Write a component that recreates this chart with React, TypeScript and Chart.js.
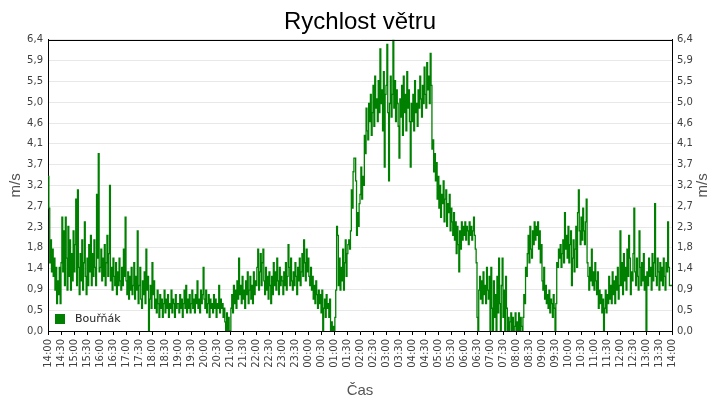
import { useEffect, useRef } from "react";
import { Chart, registerables } from "chart.js";

Chart.register(...registerables);

const chartTitle = "Rychlost větru";
const seriesName = "Bouřňák";
const unitLabel = "m/s";
const timeAxisLabel = "Čas";

// one reading every 2 minutes, starting at 14:00
const sampleMinutes = 2;

const timeLabels = [
  "14:00", "14:30", "15:00", "15:30", "16:00", "16:30", "17:00", "17:30",
  "18:00", "18:30", "19:00", "19:30", "20:00", "20:30", "21:00", "21:30",
  "22:00", "22:30", "23:00", "23:30", "00:00", "00:30", "01:00", "01:30",
  "02:00", "02:30", "03:00", "03:30", "04:00", "04:30", "05:00", "05:30",
  "06:00", "06:30", "07:00", "07:30", "08:00", "08:30", "09:00", "09:30",
  "10:00", "10:30", "11:00", "11:30", "12:00", "12:30", "13:00", "13:30",
  "14:00",
];

const yTickLabels = [
  "0,0", "0,5", "0,9", "1,4", "1,8", "2,3", "2,7", "3,2",
  "3,7", "4,1", "4,6", "5,0", "5,5", "5,9", "6,4",
];
const yMax = 6.4;

const windSpeed = [
  // 14:00
  3.4, 2.7, 1.5, 2.0, 1.3, 1.8, 1.2, 1.6, 0.9, 1.4, 0.6, 1.1, 0.8, 1.4, 0.6,
  1.5, 2.5, 1.3, 2.2, 1.0, 2.5, 1.6, 0.9, 2.3, 1.2, 2.0, 0.9, 1.7, 1.1, 2.2,
  // 15:00
  1.3, 1.9, 2.9, 1.0, 3.1, 1.4, 0.8, 1.7, 1.1, 2.0, 0.9, 1.5, 2.4, 1.2, 0.8,
  1.6, 1.0, 1.9, 1.3, 2.1, 1.0, 1.7, 1.2, 2.0, 1.4, 1.0, 3.0, 1.6, 3.9, 1.3,
  // 16:00
  1.4, 1.8, 1.1, 1.6, 1.2, 1.9, 1.0, 1.5, 2.1, 1.2, 1.7, 3.2, 1.1, 1.4, 0.9,
  1.6, 1.2, 1.0, 1.5, 0.8, 1.3, 1.0, 1.6, 1.1, 0.9, 1.4, 1.0, 1.8, 1.2, 2.5,
  // 17:00
  1.1, 0.8, 1.3, 0.7, 1.2, 0.9, 1.4, 0.8, 1.0, 1.5, 0.7, 1.2, 0.9, 2.2, 0.6,
  1.0, 1.4, 0.7, 0.5, 1.1, 0.8, 1.3, 0.6, 1.8, 0.9, 1.2, 0.0, 0.7, 1.0, 0.5,
  // 18:00
  1.5, 0.8, 1.1, 0.5, 0.7, 0.4, 0.9, 0.6, 0.3, 0.8, 0.5, 0.7, 0.3, 0.6, 0.9,
  0.4, 0.7, 0.5, 0.8, 0.3, 0.6, 0.5, 0.9, 0.4, 0.7, 0.6, 0.3, 0.8, 0.5, 0.6,
  // 19:00
  0.6, 0.4, 0.8, 0.5, 0.7, 0.3, 0.6, 0.9, 0.5, 1.0, 0.4, 0.7, 0.5, 0.8, 0.4,
  0.6, 0.9, 0.5, 0.7, 0.4, 0.8, 0.6, 1.1, 0.5, 0.7, 0.4, 0.9, 0.6, 0.8, 1.4,
  // 20:00
  0.7, 0.5, 0.9, 0.4, 0.6, 0.8, 0.3, 0.7, 0.5, 0.6, 0.4, 0.8, 0.5, 0.7, 0.3,
  0.6, 0.5, 1.0, 0.4, 0.7, 0.5, 0.6, 0.3, 0.5, 0.2, 0.0, 0.4, 0.0, 0.3, 0.0,
  // 21:00
  0.0, 0.5, 0.8, 0.4, 1.0, 0.6, 0.9, 0.5, 1.1, 0.7, 1.6, 0.8, 1.0, 0.6, 1.2,
  0.7, 0.9, 0.5, 1.1, 0.8, 1.3, 0.6, 0.9, 1.2, 0.7, 1.0, 0.6, 1.3, 0.8, 1.1,
  // 22:00
  1.0, 1.4, 1.8, 0.9, 1.3, 1.7, 1.0, 1.5, 1.8, 1.1, 0.8, 1.4, 0.9, 1.2, 0.7,
  1.3, 1.0, 0.6, 1.2, 0.8, 1.5, 1.0, 1.3, 0.9, 1.6, 1.1, 0.8, 1.4, 1.0, 1.2,
  // 23:00
  1.1, 0.8, 1.3, 1.0, 1.5, 0.9, 1.2, 1.9, 1.4, 1.0, 1.6, 1.1, 0.9, 1.3, 1.0,
  1.5, 1.2, 0.8, 1.4, 1.1, 1.6, 1.0, 1.3, 1.7, 1.2, 2.0, 1.5, 1.1, 1.8, 1.3,
  // 00:00
  1.6, 1.2, 1.0, 1.4, 0.9, 1.2, 0.7, 1.0, 0.6, 1.1, 0.8, 0.5, 0.9, 0.6, 0.8,
  0.4, 0.9, 0.0, 0.5, 0.7, 0.3, 0.8, 0.5, 0.6, 0.3, 0.7, 0.0, 0.2, 0.0, 0.1,
  // 01:00
  0.0, 0.3, 0.9, 2.3, 2.1, 1.0, 1.6, 0.9, 1.4, 1.1, 1.8, 0.9, 1.5, 2.0, 1.2,
  1.7, 1.9, 2.0, 1.8, 2.2, 3.1, 2.7, 3.5, 3.8, 3.8, 3.3, 2.1, 2.6, 2.3, 2.8,
  // 02:00
  3.0, 3.6, 2.9, 3.4, 3.2, 4.3, 3.9, 4.9, 4.4, 4.2, 5.0, 4.6, 5.2, 4.3, 4.8,
  5.4, 4.5, 5.6, 4.9, 5.1, 4.6, 5.5, 4.8, 6.2, 5.0, 5.3, 4.4, 5.7, 3.6, 5.2,
  // 03:00
  5.4, 6.3, 4.8, 3.3, 5.0, 5.6, 4.7, 5.2, 6.4, 4.9, 5.5, 4.6, 5.3, 5.0, 4.5,
  3.8, 5.1, 4.7, 5.4, 4.3, 5.6, 4.8, 5.2, 4.4, 5.7, 4.9, 5.3, 4.6, 3.6, 5.0,
  // 04:00
  4.6, 5.2, 4.4, 5.5, 4.8, 5.0, 4.5, 5.3, 4.9, 5.6, 5.1, 4.7, 5.4, 5.0, 5.8,
  5.2, 4.9, 5.9, 5.3, 5.6, 5.0, 6.1, 5.4, 4.0, 4.2, 3.5, 3.9, 3.3, 3.7, 2.9,
  // 05:00
  3.4, 2.7, 3.2, 2.5, 3.0, 2.8, 3.3, 2.4, 2.9, 3.1, 2.3, 2.8, 2.6, 3.0, 2.2,
  2.7, 2.4, 2.1, 2.6, 2.0, 2.4, 1.7, 2.3, 1.9, 1.3, 2.2, 1.8, 2.4, 2.0, 2.3,
  // 06:00
  2.1, 2.4, 2.0, 2.3, 2.2, 1.9, 2.4, 2.1, 2.3, 2.0, 2.2, 2.5, 2.1, 1.8, 1.5,
  0.3, 0.0, 0.9, 1.2, 0.7, 1.1, 0.6, 1.3, 0.8, 1.0, 0.6, 1.4, 0.9, 0.7, 1.2,
  // 07:00
  0.0, 1.4, 0.5, 0.0, 1.1, 0.3, 0.8, 0.0, 1.2, 0.4, 1.6, 0.6, 0.0, 1.0, 1.6,
  0.3, 0.9, 0.0, 1.2, 0.5, 0.0, 0.3, 0.0, 0.2, 0.4, 0.0, 0.3, 0.0, 0.1, 0.4,
  // 08:00
  0.0, 0.2, 0.0, 0.4, 0.0, 0.3, 0.1, 0.0, 0.3, 0.8, 0.6, 1.4, 1.2, 1.7, 2.1,
  1.5, 2.3, 1.8, 1.6, 2.2, 1.9, 2.4, 2.0, 2.3, 2.1, 2.4, 1.8, 2.2, 1.5, 1.9,
  // 09:00
  1.1, 0.9, 1.4, 0.7, 1.0, 0.6, 0.8, 0.5, 0.9, 0.4, 0.7, 0.6, 0.3, 0.8, 0.5,
  0.0, 0.6, 1.5, 1.4, 1.8, 1.6, 1.9, 1.4, 1.7, 2.0, 1.5, 2.6, 1.8, 2.1, 1.6,
  // 10:00
  2.3, 1.5, 1.9, 2.2, 1.0, 1.6, 2.0, 1.3, 1.8, 2.3, 1.4, 2.6, 3.1, 2.2, 1.9,
  2.5, 2.0, 2.7, 2.2, 1.9, 2.4, 2.9, 1.5, 1.2, 0.9, 1.4, 1.1, 1.8, 1.0, 1.3,
  // 11:00
  0.9, 1.5, 1.1, 0.8, 1.3, 0.5, 0.9, 0.6, 0.8, 0.4, 0.7, 0.0, 0.5, 0.9, 0.4,
  0.8, 0.6, 1.2, 0.7, 1.0, 0.6, 1.3, 0.8, 1.1, 0.6, 1.2, 0.9, 1.4, 0.7, 1.0,
  // 12:00
  2.2, 1.0, 1.5, 0.8, 1.7, 1.1, 1.4, 0.9, 1.8, 1.2, 2.1, 1.6, 0.8, 1.3, 1.1,
  1.7, 2.7, 1.3, 1.0, 1.6, 1.2, 0.9, 2.2, 1.4, 1.0, 1.5, 1.1, 1.7, 0.9, 1.2,
  // 13:00
  0.0, 1.3, 1.0, 1.6, 1.2, 1.4, 0.9, 1.7, 1.1, 1.5, 2.8, 1.2, 1.0, 1.6, 1.3,
  0.9, 1.5, 1.1, 1.4, 1.0, 1.6, 1.2, 0.9, 1.5, 1.3, 2.4, 1.4, 1.0, 1.0, 1.0,
  // 14:00
  1.0,
];

const lineColor = "#008000";
const tickColor = "#404040";
const labelFont = "'DejaVu Sans', Verdana, sans-serif";
const titleFont = "'Liberation Sans', Arial, sans-serif";

// top edge of the frame, legend inside the plot and the right axis title
const framePlugin = {
  id: "frameAndLegend",
  afterDatasetsDraw(chart: Chart) {
    const { ctx, chartArea } = chart;
    const top = Math.round(chartArea.top) + 0.5;
    ctx.save();
    ctx.strokeStyle = "#000";
    ctx.lineWidth = 1;
    ctx.beginPath();
    ctx.moveTo(chartArea.left, top);
    ctx.lineTo(chartArea.right, top);
    ctx.stroke();

    const ds = chart.data.datasets[0] as any;
    ctx.fillStyle = ds.borderColor;
    ctx.fillRect(chartArea.left + 7, chartArea.bottom - 17, 10, 10);
    ctx.fillStyle = "#222";
    ctx.font = `11px ${labelFont}`;
    ctx.textBaseline = "middle";
    ctx.textAlign = "left";
    ctx.fillText(ds.label, chartArea.left + 27, chartArea.bottom - 12);

    ctx.translate(703, (chartArea.top + chartArea.bottom) / 2);
    ctx.rotate(-Math.PI / 2);
    ctx.textAlign = "center";
    ctx.font = `15px ${titleFont}`;
    ctx.fillStyle = "#555";
    ctx.fillText(unitLabel, 0, 0);
    ctx.restore();
  },
};

function setYTicks(scale: any) {
  scale.ticks = yTickLabels.map((_, i) => ({
    value: (i * yMax) / (yTickLabels.length - 1),
  }));
}

function WindChart() {
  const chartRef = useRef<HTMLCanvasElement | null>(null);
  const chartInstance = useRef<Chart | null>(null);

  useEffect(() => {
    if (!chartRef.current) return;
    const ctx = chartRef.current.getContext("2d");
    if (!ctx) return;

    if (chartInstance.current) {
      chartInstance.current.destroy();
    }

    const points = windSpeed.map((v, i) => ({ x: i * sampleMinutes, y: v }));

    chartInstance.current = new Chart(ctx, {
      type: "line",
      data: {
        datasets: [
          {
            label: seriesName,
            data: points,
            borderColor: lineColor,
            backgroundColor: lineColor,
            borderWidth: 1.3,
            pointRadius: 0,
            stepped: true,
            fill: false,
            xAxisID: "x",
            yAxisID: "y",
          },
        ],
      },
      options: {
        animation: false,
        responsive: true,
        maintainAspectRatio: false,
        layout: { padding: 0 },
        plugins: {
          legend: { display: false },
          tooltip: { enabled: false },
          title: {
            display: true,
            text: chartTitle,
            color: "#000",
            font: { family: titleFont, size: 24, weight: "normal" },
            padding: { top: 8, bottom: 3 },
          },
        },
        scales: {
          x: {
            type: "linear",
            min: 0,
            max: (timeLabels.length - 1) * 30,
            afterBuildTicks: (scale: any) => {
              scale.ticks = timeLabels.map((_, i) => ({ value: i * 30 }));
            },
            afterFit: (scale: any) => {
              scale.height = 69;
            },
            ticks: {
              autoSkip: false,
              minRotation: 90,
              maxRotation: 90,
              padding: 4,
              color: tickColor,
              font: { family: labelFont, size: 10 },
              callback: (_v: any, i: number) => timeLabels[i],
            },
            grid: {
              drawOnChartArea: false,
              drawTicks: true,
              tickLength: 4,
              color: "#000",
            },
            border: { color: "#000" },
            title: {
              display: true,
              text: timeAxisLabel,
              color: "#555",
              font: { family: titleFont, size: 15 },
              padding: { top: 5, bottom: 0 },
            },
          },
          y: {
            position: "left",
            min: 0,
            max: yMax,
            afterBuildTicks: setYTicks,
            afterFit: (scale: any) => {
              scale.width = 48;
            },
            ticks: {
              padding: 5,
              color: tickColor,
              font: { family: labelFont, size: 10 },
              callback: (_v: any, i: number) => yTickLabels[i],
            },
            grid: { color: "#e8e8e8", drawTicks: false },
            border: { color: "#000" },
            title: {
              display: true,
              text: unitLabel,
              color: "#555",
              font: { family: titleFont, size: 15 },
              padding: { top: 7, bottom: 0 },
            },
          },
          y2: {
            position: "right",
            min: 0,
            max: yMax,
            afterBuildTicks: setYTicks,
            afterFit: (scale: any) => {
              scale.width = 48;
            },
            ticks: {
              padding: 5,
              color: tickColor,
              font: { family: labelFont, size: 10 },
              callback: (_v: any, i: number) => yTickLabels[i],
            },
            grid: { drawOnChartArea: false, drawTicks: false },
            border: { color: "#000" },
          },
        },
      },
      plugins: [framePlugin],
    });

    return () => {
      if (chartInstance.current) {
        chartInstance.current.destroy();
        chartInstance.current = null;
      }
    };
  }, []);

  return (
    <div
      style={{
        position: "fixed",
        left: 0,
        top: 0,
        width: 720,
        height: 400,
        background: "#fff",
      }}
    >
      <canvas ref={chartRef} />
    </div>
  );
}

export default function App() {
  return <WindChart />;
}
